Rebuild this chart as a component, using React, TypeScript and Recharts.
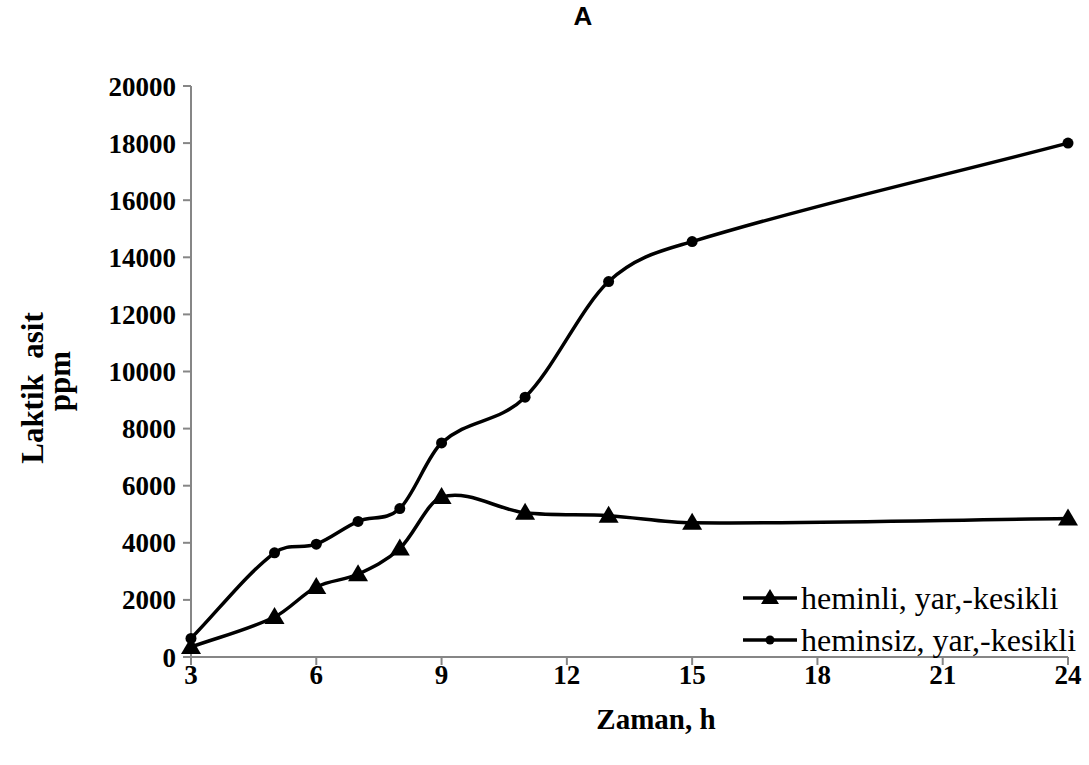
import { LineChart, Line, XAxis, YAxis, Legend, Label } from "recharts"

const hours = [3, 5, 6, 7, 8, 9, 11, 13, 15, 24]
const heminli = [350, 1400, 2450, 2900, 3800, 5600, 5050, 4950, 4700, 4850]
const heminsiz = [650, 3650, 3950, 4750, 5200, 7500, 9100, 13150, 14550, 18000]
const xTicks = [3, 6, 9, 12, 15, 18, 21, 24]
const yTicks = [0, 2000, 4000, 6000, 8000, 10000, 12000, 14000, 16000, 18000, 20000]

const seriesNames = ["heminli, yar,-kesikli", "heminsiz, yar,-kesikli"]

const data = hours.map((t, i) => ({ t, heminli: heminli[i], heminsiz: heminsiz[i] }))

const serif = "'Liberation Serif', 'Times New Roman', serif"
const axisGray = "#868686"

// smoothed line: cubic hermite with finite-difference slopes (no monotone clamp)
function smoothX(context: any) {
  let pts: [number, number][] = []
  return {
    areaStart() {},
    areaEnd() {},
    lineStart() {
      pts = []
    },
    lineEnd() {
      const n = pts.length
      if (!n) return
      const slope = (a: [number, number], b: [number, number]) => (b[1] - a[1]) / (b[0] - a[0] || 1)
      const m = pts.map((p, i) => {
        if (n === 1) return 0
        if (i === 0) return slope(pts[0], pts[1])
        if (i === n - 1) return slope(pts[n - 2], pts[n - 1])
        return slope(pts[i - 1], pts[i + 1])
      })
      context.moveTo(pts[0][0], pts[0][1])
      for (let i = 0; i < n - 1; i++) {
        const p1 = pts[i]
        const p2 = pts[i + 1]
        const dx = (p2[0] - p1[0]) / 3
        context.bezierCurveTo(p1[0] + dx, p1[1] + m[i] * dx, p2[0] - dx, p2[1] - m[i + 1] * dx, p2[0], p2[1])
      }
    },
    point(x: number, y: number) {
      pts.push([+x, +y])
    },
  }
}

function TriangleDot(props: any) {
  const { cx, cy, index } = props
  if (cx == null || cy == null) return null
  return (
    <polygon
      key={`tri-${index}`}
      points={`${cx},${cy - 10} ${cx - 10},${cy + 7} ${cx + 10},${cy + 7}`}
      fill="#000"
    />
  )
}

function CircleDot(props: any) {
  const { cx, cy, index } = props
  if (cx == null || cy == null) return null
  return <circle key={`dot-${index}`} cx={cx} cy={cy} r={5.5} fill="#000" />
}

function LegendBox() {
  return (
    <div style={{ fontFamily: serif, fontSize: 32, color: "#000" }}>
      {seriesNames.map((name, i) => (
        <div key={name} style={{ display: "flex", alignItems: "center", height: 42 }}>
          <svg width={58} height={20} style={{ marginRight: 2 }}>
            <line x1={2} y1={10} x2={56} y2={10} stroke="#000" strokeWidth={3.5} />
            {i === 0 ? (
              <polygon points="29,1 20,16 38,16" fill="#000" />
            ) : (
              <circle cx={29} cy={10} r={4.5} fill="#000" />
            )}
          </svg>
          <span>{name}</span>
        </div>
      ))}
    </div>
  )
}

function YTitle() {
  return (
    <g fontFamily={serif} fontSize={31} fontWeight={700} fill="#000" textAnchor="middle">
      <text transform="translate(43, 388) rotate(-90)">{"Laktik\u00a0\u00a0asit"}</text>
      <text transform="translate(70, 381) rotate(-90)">ppm</text>
    </g>
  )
}

function XTitle() {
  return (
    <text x={656} y={729} fontFamily={serif} fontSize={29} fontWeight={700} fill="#000" textAnchor="middle">
      Zaman, h
    </text>
  )
}

export default function App() {
  return (
    <div style={{ position: "absolute", left: 0, top: 0, width: 1089, height: 765, background: "#fff" }}>
      <div
        style={{
          position: "absolute",
          left: 0,
          width: 1166,
          top: 0,
          textAlign: "center",
          fontFamily: "'Liberation Sans', Arial, sans-serif",
          fontWeight: 700,
          fontSize: 26,
          lineHeight: "32px",
        }}
      >
        A
      </div>
      <LineChart width={1089} height={765} data={data} margin={{ top: 86, right: 21, bottom: 0, left: 0 }}>
        <XAxis
          dataKey="t"
          type="number"
          domain={[3, 24]}
          ticks={xTicks}
          interval={0}
          height={108}
          stroke={axisGray}
          strokeWidth={2}
          tickSize={8}
          tickMargin={0}
          tick={{ fontFamily: serif, fontSize: 27, fontWeight: 700, fill: "#000" }}
        >
          <Label content={<XTitle />} />
        </XAxis>
        <YAxis
          type="number"
          domain={[0, 20000]}
          ticks={yTicks}
          interval={0}
          width={191}
          stroke={axisGray}
          strokeWidth={2}
          tickSize={8}
          tickMargin={7}
          tick={{ fontFamily: serif, fontSize: 27, fontWeight: 700, fill: "#000" }}
        >
          <Label content={<YTitle />} />
        </YAxis>
        <Legend
          layout="horizontal"
          align="center"
          verticalAlign="middle"
          content={<LegendBox />}
          wrapperStyle={{ position: "absolute", left: 741, top: 577, width: 348 }}
        />
        <Line
          type={smoothX as any}
          dataKey="heminli"
          name={seriesNames[0]}
          stroke="#000"
          strokeWidth={3.5}
          dot={TriangleDot}
          activeDot={false}
          isAnimationActive={false}
        />
        <Line
          type={smoothX as any}
          dataKey="heminsiz"
          name={seriesNames[1]}
          stroke="#000"
          strokeWidth={3.5}
          dot={CircleDot}
          activeDot={false}
          isAnimationActive={false}
        />
      </LineChart>
    </div>
  )
}
